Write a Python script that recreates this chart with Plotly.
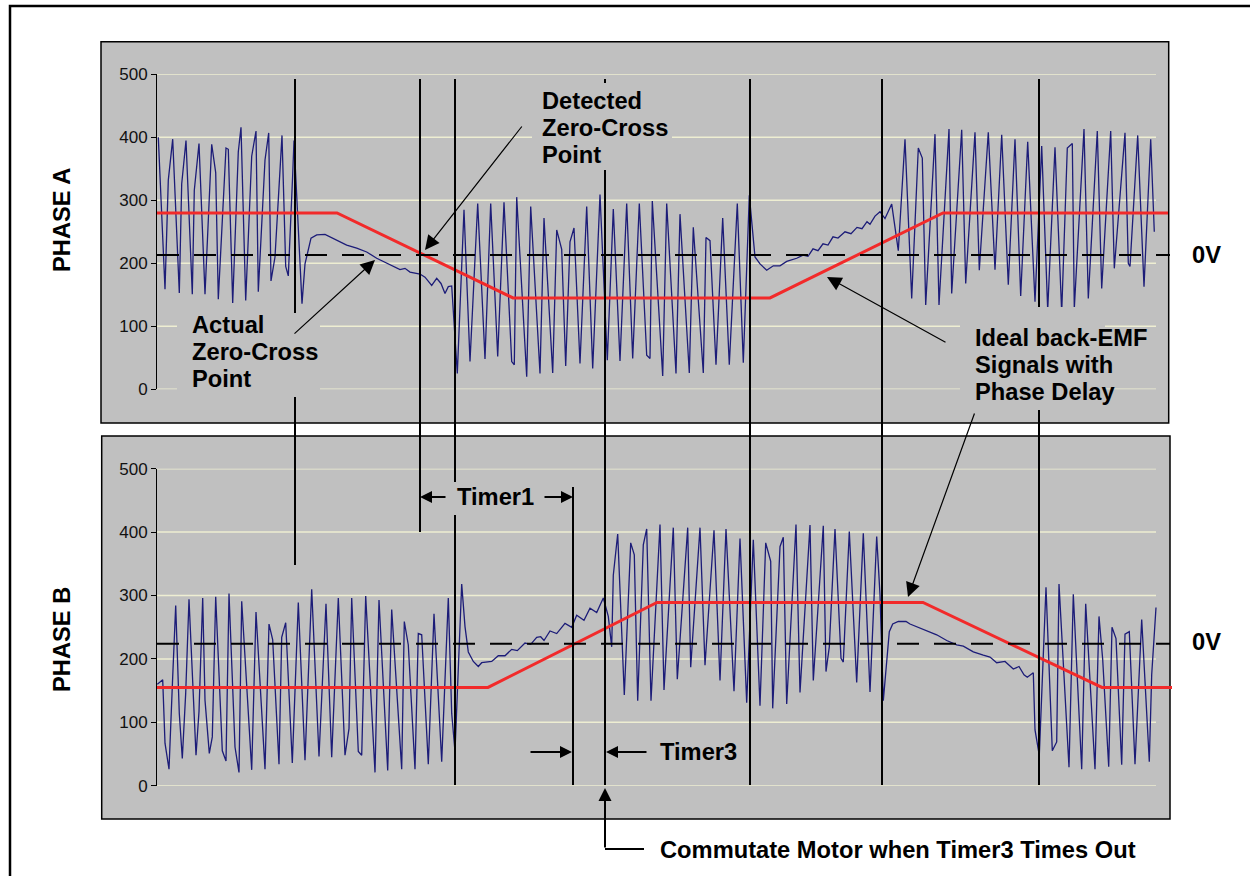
import plotly.graph_objects as go

W, H = 1250, 876

# ---- Phase A terminal voltage (sample time, ADC counts) ----
t_a = [1.3, 8, 11.3, 15.7, 22.3, 24.7, 29, 35.3, 37.3, 42, 48, 54.7, 58.7, 61.3, 69, 71.3,
       75.7, 81.3, 84, 88.7, 94.7, 99, 101.3, 108, 111.7, 114, 118, 125, 128.7, 131.3, 135.7,
       137, 145, 148, 154, 159.7, 168, 179.7, 189.7, 199.7, 209.7, 219.7, 229.7, 236, 243,
       248, 253, 263, 268, 274.7, 279.7, 284, 288, 291.3, 294.7, 300.3, 307, 313, 320.7, 328,
       333.7, 340.7, 347, 354.7, 357.3, 359.7, 369.7, 373.7, 383, 387, 395.7, 399.7, 404.7,
       408.7, 413, 417, 423, 429.7, 435.7, 443, 450.3, 456.3, 463, 469.7, 475.7, 482.3, 489.7,
       493, 495.3, 505.7, 509.7, 519, 523, 532.3, 536.3, 546.3, 549, 553, 559, 565.7, 572.3,
       580.3, 586.3, 592.3, 598, 603, 609.7, 616.3, 623, 629.7, 639.7, 646, 651, 656, 661,
       666, 671, 676, 681, 688, 694, 700, 705, 710, 713, 718, 723, 728, 734.7, 741.3, 748,
       754.7, 761.3, 765.3, 768.7, 778, 782, 792, 794.7, 804.7, 808.7, 818, 822.3, 831.3, 838,
       844.7, 851.3, 858, 863.7, 870.7, 878, 884.7, 890.7, 898, 904.7, 910.3, 915.3, 917.3,
       927, 931.3, 940.3, 944.7, 953.7, 957.3, 968, 971.3, 973, 980.7, 987, 993.7, 997.3]
v_a = [400, 159, 332, 397, 153, 326, 395, 151, 316, 390, 151, 389, 344, 143, 383, 381,
       137, 377, 416, 141, 370, 410, 155, 364, 407, 172, 210, 403, 195, 180, 341,
       395, 136, 199, 240, 245, 246, 237, 229, 224, 218, 208, 200, 196, 190,
       192, 186, 183, 178, 165, 176, 168, 152, 163, 164, 25, 285, 44, 295, 48,
       295, 52, 297, 44, 39, 305, 20, 290, 25, 272, 26, 253, 222,
       37, 234, 256, 41, 290, 33, 309, 46, 286, 45, 295, 49, 295, 54,
       49, 299, 21, 295, 25, 278, 26, 257, 26, 241, 236, 39, 272, 39,
       295, 42, 308, 210, 199, 189, 196, 196, 203, 208, 213, 211, 223, 220,
       231, 229, 242, 240, 250, 247, 257, 255, 266, 262, 275, 282, 271, 294, 220, 397,
       144, 383, 367, 134, 405, 134, 413, 152, 412, 168, 408, 189, 408, 190,
       404, 166, 397, 148, 393, 139, 386, 126, 384, 122, 383, 390, 128,
       413, 144, 410, 160, 410, 192, 407, 200, 195, 403, 163, 397, 250]

# ---- Phase B terminal voltage ----
t_b = [0.3, 5.7, 8, 12, 15.7, 18.7, 22.3, 25.3, 28.7, 32, 39, 42, 45.7, 48, 52.3, 55.3,
       58.7, 65.3, 69, 72, 78, 82, 84.7, 94.7, 99, 108, 112, 115.7, 122, 124.7, 128.7, 135.3,
       141.3, 148, 154.7, 162, 169, 174.7, 181.3, 188, 192, 194.7, 201.3, 204.7, 208.7, 218,
       222, 230.7, 234.7, 244.7, 247.3, 251.3, 258, 261.3, 264.7, 271.3, 277, 284.7, 291.3,
       294.7, 298, 304.7, 308, 311.3, 316.3, 321.3, 324.7, 334.7, 341.3, 348, 354.7, 360.3,
       368, 373.7, 379.7, 383.7, 387, 393, 399.7, 408, 414.7, 419.7, 427, 433, 439.7, 446.3,
       451.3, 454.7, 456.3, 460.7, 467.3, 473.7, 477.3, 480.7, 486.3, 489.7, 494, 503, 507,
       516.3, 520.3, 530.7, 533.7, 543, 548, 557, 563, 569, 577, 583, 589.7, 596.3, 603,
       608.7, 613.7, 615.7, 623, 626.3, 629.7, 639, 643, 653, 656.3, 666.3, 669, 672.3, 678,
       684, 686.3, 692.3, 699.7, 706.3, 713, 719.7, 723, 726.3, 732.3, 735.7, 741.3, 749, 753,
       759.7, 769.7, 779.7, 789.7, 799.7, 806.3, 816.3, 826.3, 833, 839.7, 848, 856.3, 862,
       867, 870.3, 876.3, 878, 882.3, 889, 895.3, 899.7, 902, 912, 916.3, 924.7, 928.7, 938,
       942, 945.7, 951.7, 955, 959, 964.7, 968, 972.3, 978, 984.7, 992.3, 994.7, 999]
v_b = [160, 167, 67, 26, 172, 284, 114, 43, 146, 294, 48, 117, 296, 135, 51, 77,
       298, 55, 39, 303, 61, 21, 291, 25, 274, 26, 255, 230, 34, 234, 257, 36,
       289, 40, 310, 46, 287, 45, 296, 48, 90, 296, 54, 48, 299, 21,
       293, 24, 278, 26, 259, 222, 26, 240, 238, 34, 271, 38, 296,
       114, 54, 318, 251, 211, 196, 188, 194, 196, 205, 205, 215, 213,
       225, 223, 234, 235, 229, 244, 240, 256, 250, 269, 261, 280, 273, 296,
       267, 219, 332, 397, 143, 383, 364, 134, 380, 405, 134, 412, 151,
       407, 168, 407, 187, 407, 190, 403, 166, 405, 149, 390, 131, 388, 126,
       383, 354, 122, 377, 392, 129, 412, 147, 411, 166, 410, 180, 219, 405,
       201, 195, 401, 163, 398, 148, 393, 301, 134, 243, 255, 259, 259, 255,
       251, 244, 238, 229, 222, 220, 211, 206, 203, 194, 196, 184, 188,
       175, 171, 178, 88, 48, 313, 55, 69, 318, 29, 302, 26, 287, 26,
       267, 199, 30, 250, 232, 33, 239, 243, 34, 262, 38, 175, 281]

# ---- Ideal back-EMF trapezoids with phase delay ----
emf_t_a = [0, 180, 356, 613, 786, 1011]
emf_v_a = [280, 280, 145, 145, 280, 280]
emf_t_b = [0, 331, 500, 766, 945, 1015]
emf_v_b = [155, 155, 289, 289, 155, 155]

# Virtual neutral (0 V) level of each phase
zero_a = 213
zero_b = 224

y_ticks = [0, 100, 200, 300, 400, 500]
grid_end = 999
t_end = 1015

# Event markers (sample time)
t_actual_zc = 138
t_detect_a = 263
t_comm_prev = 298
t_timer1_end = 416
t_timer3_end = 448
t_comm_2 = 593
t_comm_3 = 725
t_comm_4 = 882

NAVY = "#1c1c78"
RED = "#f22a2a"
GRAY = "#c0c0c0"
GRID = "#eeeed2"
FONT = "Liberation Sans, Arial, sans-serif"


def px(x):
    return x / W


def py(y):
    return 1 - y / H


fig = go.Figure()
fig.add_trace(go.Scatter(x=t_a, y=v_a, mode="lines", line=dict(color=NAVY, width=1.3),
                         xaxis="x", yaxis="y", hoverinfo="skip"))
fig.add_trace(go.Scatter(x=emf_t_a, y=emf_v_a, mode="lines", line=dict(color=RED, width=3),
                         xaxis="x", yaxis="y", hoverinfo="skip"))
fig.add_trace(go.Scatter(x=t_b, y=v_b, mode="lines", line=dict(color=NAVY, width=1.3),
                         xaxis="x2", yaxis="y2", hoverinfo="skip"))
fig.add_trace(go.Scatter(x=emf_t_b, y=emf_v_b, mode="lines", line=dict(color=RED, width=3),
                         xaxis="x2", yaxis="y2", hoverinfo="skip"))

shapes = []
# outer frame
shapes.append(dict(type="rect", xref="paper", yref="paper", x0=px(10), y0=py(6),
                   x1=px(1262), y1=py(890), line=dict(color="black", width=2.5),
                   fillcolor="white", layer="below"))
# chart panels
for (x0, y0, x1, y1) in [(101, 41.7, 1168.7, 423), (101.7, 436, 1170, 819)]:
    shapes.append(dict(type="rect", xref="paper", yref="paper", x0=px(x0), y0=py(y0),
                       x1=px(x1), y1=py(y1), fillcolor=GRAY,
                       line=dict(color="black", width=1.5), layer="below"))
# horizontal gridlines
for ax in ["", "2"]:
    for v in y_ticks:
        shapes.append(dict(type="line", xref="x" + ax, yref="y" + ax, x0=0, x1=grid_end,
                           y0=v, y1=v, line=dict(color=GRID, width=1.5), layer="below"))
# 0 V reference lines
for ax, z in [("", zero_a), ("2", zero_b)]:
    shapes.append(dict(type="line", xref="x" + ax, yref="y" + ax, x0=0, x1=t_end - 2,
                       y0=z, y1=z, line=dict(color="black", width=2, dash="22px,15px"),
                       layer="above"))


def vseg(t, y0, y1):
    shapes.append(dict(type="line", xref="x", yref="paper", x0=t, x1=t,
                       y0=py(y0), y1=py(y1), line=dict(color="black", width=2),
                       layer="above"))


vseg(t_actual_zc, 79, 565)
vseg(t_detect_a, 79, 532)
vseg(t_comm_prev, 79, 785)
vseg(t_timer3_end, 79, 785)
vseg(t_timer1_end, 487, 785)
vseg(t_comm_2, 79, 785)
vseg(t_comm_3, 79, 785)
vseg(t_comm_4, 79, 785)
# leader from the commutation arrow to its caption
shapes.append(dict(type="line", xref="paper", yref="paper", x0=px(605), x1=px(644),
                   y0=py(849), y1=py(849), line=dict(color="black", width=2), layer="above"))

# label backgrounds
for (x0, y0, x1, y1) in [(177, 313, 320, 397), (532, 83, 672, 170),
                         (960, 307, 1105, 410), (447, 482, 542, 515)]:
    shapes.append(dict(type="rect", xref="paper", yref="paper", x0=px(x0), y0=py(y0),
                       x1=px(x1), y1=py(y1), fillcolor=GRAY, line=dict(width=0),
                       layer="above"))

ann = []


def label(text, x, y, size=23.7, angle=0, xanchor="left"):
    ann.append(dict(text="<b>" + text + "</b>", x=px(x), y=py(y), xref="paper", yref="paper",
                    xanchor=xanchor, yanchor="middle", showarrow=False, textangle=angle,
                    font=dict(family=FONT, size=size, color="black")))


def arrow(tip, tail, width=2, size=1.2):
    ann.append(dict(text="", x=px(tip[0]), y=py(tip[1]), xref="paper", yref="paper",
                    ax=tail[0] - tip[0], ay=tail[1] - tip[1], showarrow=True,
                    arrowhead=2, arrowsize=size, arrowwidth=width, arrowcolor="black",
                    standoff=0, startstandoff=0))


for i, s in enumerate(["Detected", "Zero-Cross", "Point"]):
    label(s, 540, 101 + 27 * i)
for i, s in enumerate(["Actual", "Zero-Cross", "Point"]):
    label(s, 190, 325 + 27 * i)
for i, s in enumerate(["Ideal back-EMF", "Signals with", "Phase Delay"]):
    label(s, 973, 338 + 27 * i)
label("Timer1", 455, 497)
label("Timer3", 658, 752)
label("0V", 1190, 255)
label("0V", 1190, 642)
label("Commutate Motor when Timer3 Times Out", 658, 850)
label("PHASE A", 62, 220, angle=-90, xanchor="center")
label("PHASE B", 62, 640, angle=-90, xanchor="center")

arrow((420, 497), (447, 497))
arrow((573, 497), (543, 497))
arrow((572, 752), (529, 752))
arrow((606, 752), (648, 752))
arrow((605, 788), (605, 849), width=2, size=1.3)
arrow((425, 250), (523, 125), width=1.2, size=2.4)
arrow((375, 260), (293, 335), width=1.2, size=2.4)
arrow((827, 277), (947, 343), width=1.2, size=2.4)
arrow((908, 597), (975, 412), width=1.2, size=2.4)

xdom = [157 / W, 1172 / W]
yaxis_style = dict(range=[0, 500], tickvals=y_ticks, ticks="outside", ticklen=5,
                   tickcolor="black", showline=True, linecolor="black", linewidth=1,
                   showgrid=False, zeroline=False, fixedrange=True, automargin=False,
                   tickfont=dict(family=FONT, size=17, color="#111111"))
xaxis_style = dict(range=[0, t_end], visible=False, fixedrange=True, showgrid=False,
                   zeroline=False, automargin=False)

fig.update_layout(
    width=W, height=H, margin=dict(l=0, r=0, t=0, b=0, autoexpand=False),
    paper_bgcolor="white", plot_bgcolor="rgba(0,0,0,0)", showlegend=False,
    xaxis=dict(domain=xdom, anchor="y", **xaxis_style),
    yaxis=dict(domain=[py(389.3), py(74.3)], anchor="x", **yaxis_style),
    xaxis2=dict(domain=xdom, anchor="y2", **xaxis_style),
    yaxis2=dict(domain=[py(785.7), py(468.7)], anchor="x2", **yaxis_style),
    shapes=shapes, annotations=ann,
)

fig.write_html("out.html")
